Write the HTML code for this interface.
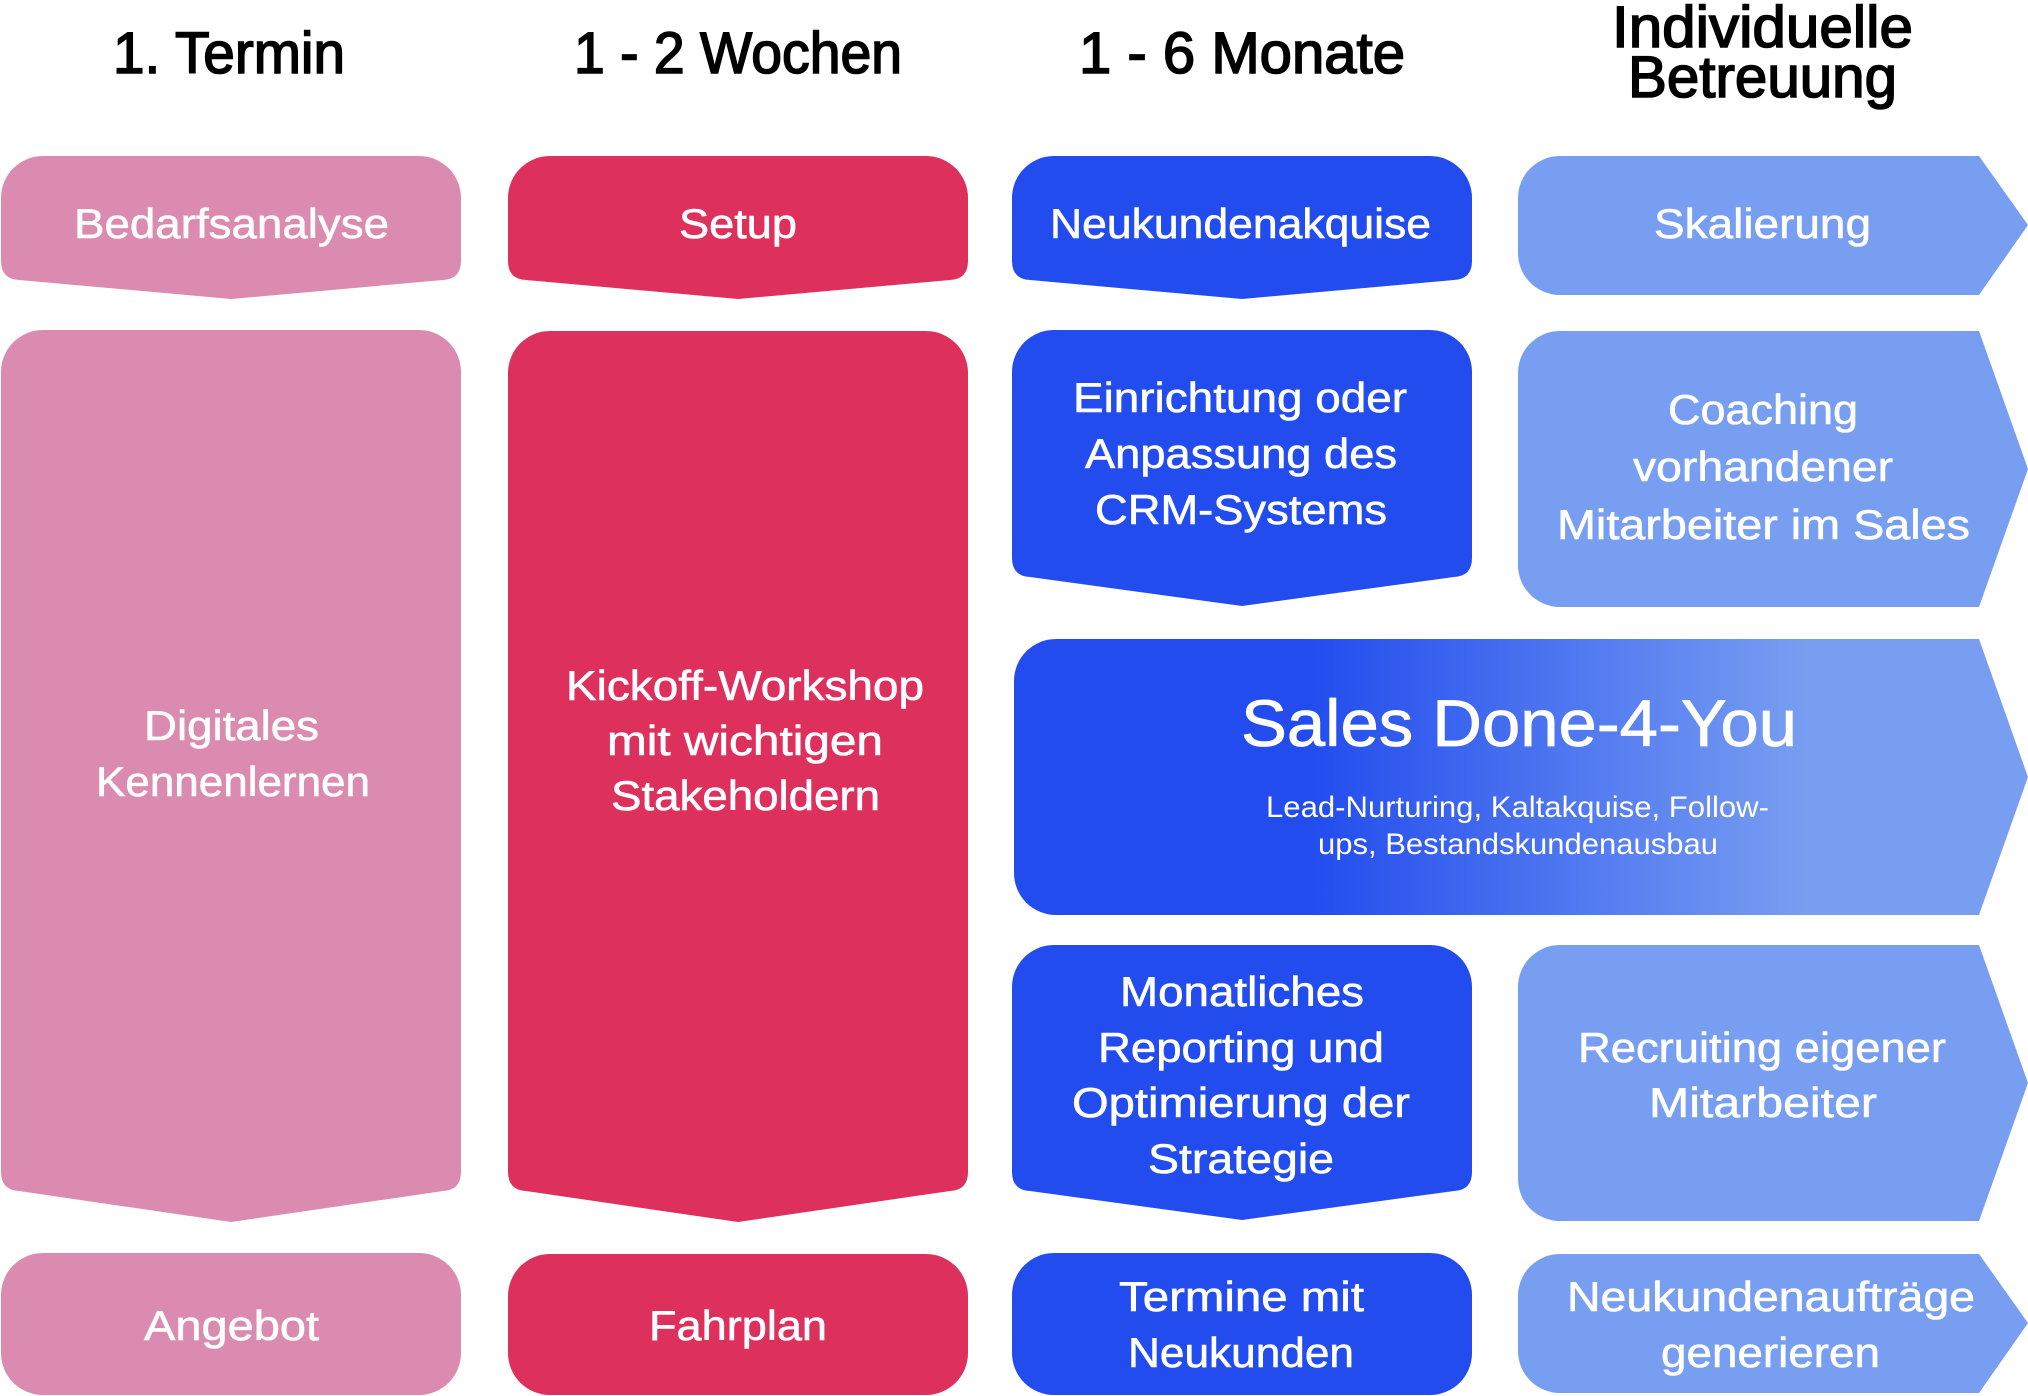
<!DOCTYPE html>
<html>
<head>
<meta charset="utf-8">
<style>
  html,body{margin:0;padding:0;background:#fff;}
  body{width:2028px;height:1396px;overflow:hidden;}
  svg{display:block;}
  text{font-family:"Liberation Sans",sans-serif;}
  .h{font-size:58px;font-weight:normal;fill:#000;stroke:#000;stroke-width:1.6px;}
  .l{font-size:42px;fill:#fff;stroke:#fff;stroke-width:0.6px;}
</style>
</head>
<body>
<svg width="2028" height="1396" viewBox="0 0 2028 1396" xmlns="http://www.w3.org/2000/svg">
  <defs>
    <linearGradient id="g" gradientUnits="userSpaceOnUse" x1="1014" y1="0" x2="2028" y2="0">
      <stop offset="0" stop-color="#224CEE"/>
      <stop offset="0.29" stop-color="#224CEE"/>
      <stop offset="0.78" stop-color="#789EF1"/>
      <stop offset="1" stop-color="#789EF1"/>
    </linearGradient>
  </defs>

  <!-- Headings -->
  <text class="h" x="113" y="73" textLength="232" lengthAdjust="spacingAndGlyphs">1. Termin</text>
  <text class="h" x="574" y="73" textLength="328" lengthAdjust="spacingAndGlyphs">1 - 2 Wochen</text>
  <text class="h" x="1079" y="73" textLength="326" lengthAdjust="spacingAndGlyphs">1 - 6 Monate</text>
  <text class="h" x="1612" y="47" textLength="301" lengthAdjust="spacingAndGlyphs">Individuelle</text>
  <text class="h" x="1628" y="97" textLength="269" lengthAdjust="spacingAndGlyphs">Betreuung</text>

  <!-- Column 1 (pink) -->
  <path fill="#DB8BB0" d="M1 198 A42 42 0 0 1 43 156 L419 156 A42 42 0 0 1 461 198 L461 261 Q461 279 443 280 L231 299 L19 280 Q1 279 1 261 Z"/>
  <path fill="#DB8BB0" d="M1 372 A42 42 0 0 1 43 330 L419 330 A42 42 0 0 1 461 372 L461 1172 Q461 1190 443 1191 L231 1222 L19 1191 Q1 1190 1 1172 Z"/>
  <rect fill="#DB8BB0" x="1" y="1253" width="460" height="142" rx="42" ry="42"/>

  <!-- Column 2 (red) -->
  <path fill="#DE305C" d="M508 198 A42 42 0 0 1 550 156 L926 156 A42 42 0 0 1 968 198 L968 261 Q968 279 950 280 L738 299 L526 280 Q508 279 508 261 Z"/>
  <path fill="#DE305C" d="M508 373 A42 42 0 0 1 550 331 L926 331 A42 42 0 0 1 968 373 L968 1172 Q968 1190 950 1191 L738 1222 L526 1191 Q508 1190 508 1172 Z"/>
  <rect fill="#DE305C" x="508" y="1254" width="460" height="141" rx="42" ry="42"/>

  <!-- Column 3 (blue) -->
  <path fill="#224CEE" d="M1012 198 A42 42 0 0 1 1054 156 L1430 156 A42 42 0 0 1 1472 198 L1472 261 Q1472 279 1454 280 L1242 299 L1030 280 Q1012 279 1012 261 Z"/>
  <path fill="#224CEE" d="M1012 372 A42 42 0 0 1 1054 330 L1430 330 A42 42 0 0 1 1472 372 L1472 558 Q1472 576 1454 577 L1242 606 L1030 577 Q1012 576 1012 558 Z"/>
  <path fill="#224CEE" d="M1012 987 A42 42 0 0 1 1054 945 L1430 945 A42 42 0 0 1 1472 987 L1472 1172 Q1472 1190 1454 1191 L1242 1220 L1030 1191 Q1012 1190 1012 1172 Z"/>
  <rect fill="#224CEE" x="1012" y="1253" width="460" height="142" rx="42" ry="42"/>

  <!-- Sales band -->
  <path fill="url(#g)" d="M1014 681 A42 42 0 0 1 1056 639 L1979 639 L2028 777 L1979 915 L1056 915 A42 42 0 0 1 1014 873 Z"/>

  <!-- Column 4 (light blue arrows) -->
  <path fill="#789EF1" d="M1518 198 A42 42 0 0 1 1560 156 L1979 156 L2028 225 L1979 295 L1560 295 A42 42 0 0 1 1518 253 Z"/>
  <path fill="#789EF1" d="M1518 373 A42 42 0 0 1 1560 331 L1979 331 L2028 469 L1979 607 L1560 607 A42 42 0 0 1 1518 565 Z"/>
  <path fill="#789EF1" d="M1518 987 A42 42 0 0 1 1560 945 L1979 945 L2028 1083 L1979 1221 L1560 1221 A42 42 0 0 1 1518 1179 Z"/>
  <path fill="#789EF1" d="M1518 1296 A42 42 0 0 1 1560 1254 L1979 1254 L2028 1323 L1979 1393 L1560 1393 A42 42 0 0 1 1518 1351 Z"/>

  <!-- Row 1 labels -->
  <text class="l" x="74" y="238" textLength="315" lengthAdjust="spacingAndGlyphs">Bedarfsanalyse</text>
  <text class="l" x="679" y="238" textLength="118" lengthAdjust="spacingAndGlyphs">Setup</text>
  <text class="l" x="1050" y="238" textLength="381" lengthAdjust="spacingAndGlyphs">Neukundenakquise</text>
  <text class="l" x="1654" y="238" textLength="217" lengthAdjust="spacingAndGlyphs">Skalierung</text>

  <!-- Row 2 labels -->
  <text class="l" x="144" y="740" textLength="175" lengthAdjust="spacingAndGlyphs">Digitales</text>
  <text class="l" x="96" y="796" textLength="274" lengthAdjust="spacingAndGlyphs">Kennenlernen</text>

  <text class="l" x="566" y="700" textLength="358" lengthAdjust="spacingAndGlyphs">Kickoff-Workshop</text>
  <text class="l" x="607" y="755" textLength="276" lengthAdjust="spacingAndGlyphs">mit wichtigen</text>
  <text class="l" x="611" y="810" textLength="269" lengthAdjust="spacingAndGlyphs">Stakeholdern</text>

  <text class="l" x="1073" y="412" textLength="334" lengthAdjust="spacingAndGlyphs">Einrichtung oder</text>
  <text class="l" x="1085" y="468" textLength="312" lengthAdjust="spacingAndGlyphs">Anpassung des</text>
  <text class="l" x="1095" y="524" textLength="292" lengthAdjust="spacingAndGlyphs">CRM-Systems</text>

  <text class="l" x="1668" y="424" textLength="190" lengthAdjust="spacingAndGlyphs">Coaching</text>
  <text class="l" x="1633" y="481" textLength="260" lengthAdjust="spacingAndGlyphs">vorhandener</text>
  <text class="l" x="1557" y="539" textLength="413" lengthAdjust="spacingAndGlyphs">Mitarbeiter im Sales</text>

  <!-- Sales band text -->
  <text x="1241" y="746" textLength="556" lengthAdjust="spacingAndGlyphs" style="font-size:66px;fill:#fff;stroke:#fff;stroke-width:0.8px;">Sales Done-4-You</text>
  <text x="1266" y="817" textLength="503" lengthAdjust="spacingAndGlyphs" style="font-size:30px;fill:#fff;">Lead-Nurturing, Kaltakquise, Follow-</text>
  <text x="1318" y="854" textLength="400" lengthAdjust="spacingAndGlyphs" style="font-size:30px;fill:#fff;">ups, Bestandskundenausbau</text>

  <!-- Row 4 labels -->
  <text class="l" x="1120" y="1006" textLength="244" lengthAdjust="spacingAndGlyphs">Monatliches</text>
  <text class="l" x="1098" y="1062" textLength="286" lengthAdjust="spacingAndGlyphs">Reporting und</text>
  <text class="l" x="1072" y="1117" textLength="338" lengthAdjust="spacingAndGlyphs">Optimierung der</text>
  <text class="l" x="1148" y="1173" textLength="186" lengthAdjust="spacingAndGlyphs">Strategie</text>

  <text class="l" x="1578" y="1062" textLength="368" lengthAdjust="spacingAndGlyphs">Recruiting eigener</text>
  <text class="l" x="1649" y="1117" textLength="228" lengthAdjust="spacingAndGlyphs">Mitarbeiter</text>

  <!-- Row 5 labels -->
  <text class="l" x="144" y="1340" textLength="175" lengthAdjust="spacingAndGlyphs">Angebot</text>
  <text class="l" x="649" y="1340" textLength="178" lengthAdjust="spacingAndGlyphs">Fahrplan</text>
  <text class="l" x="1119" y="1311" textLength="245" lengthAdjust="spacingAndGlyphs">Termine mit</text>
  <text class="l" x="1128" y="1367" textLength="226" lengthAdjust="spacingAndGlyphs">Neukunden</text>
  <text class="l" x="1567" y="1311" textLength="408" lengthAdjust="spacingAndGlyphs">Neukundenaufträge</text>
  <text class="l" x="1661" y="1367" textLength="219" lengthAdjust="spacingAndGlyphs">generieren</text>
</svg>
</body>
</html>
